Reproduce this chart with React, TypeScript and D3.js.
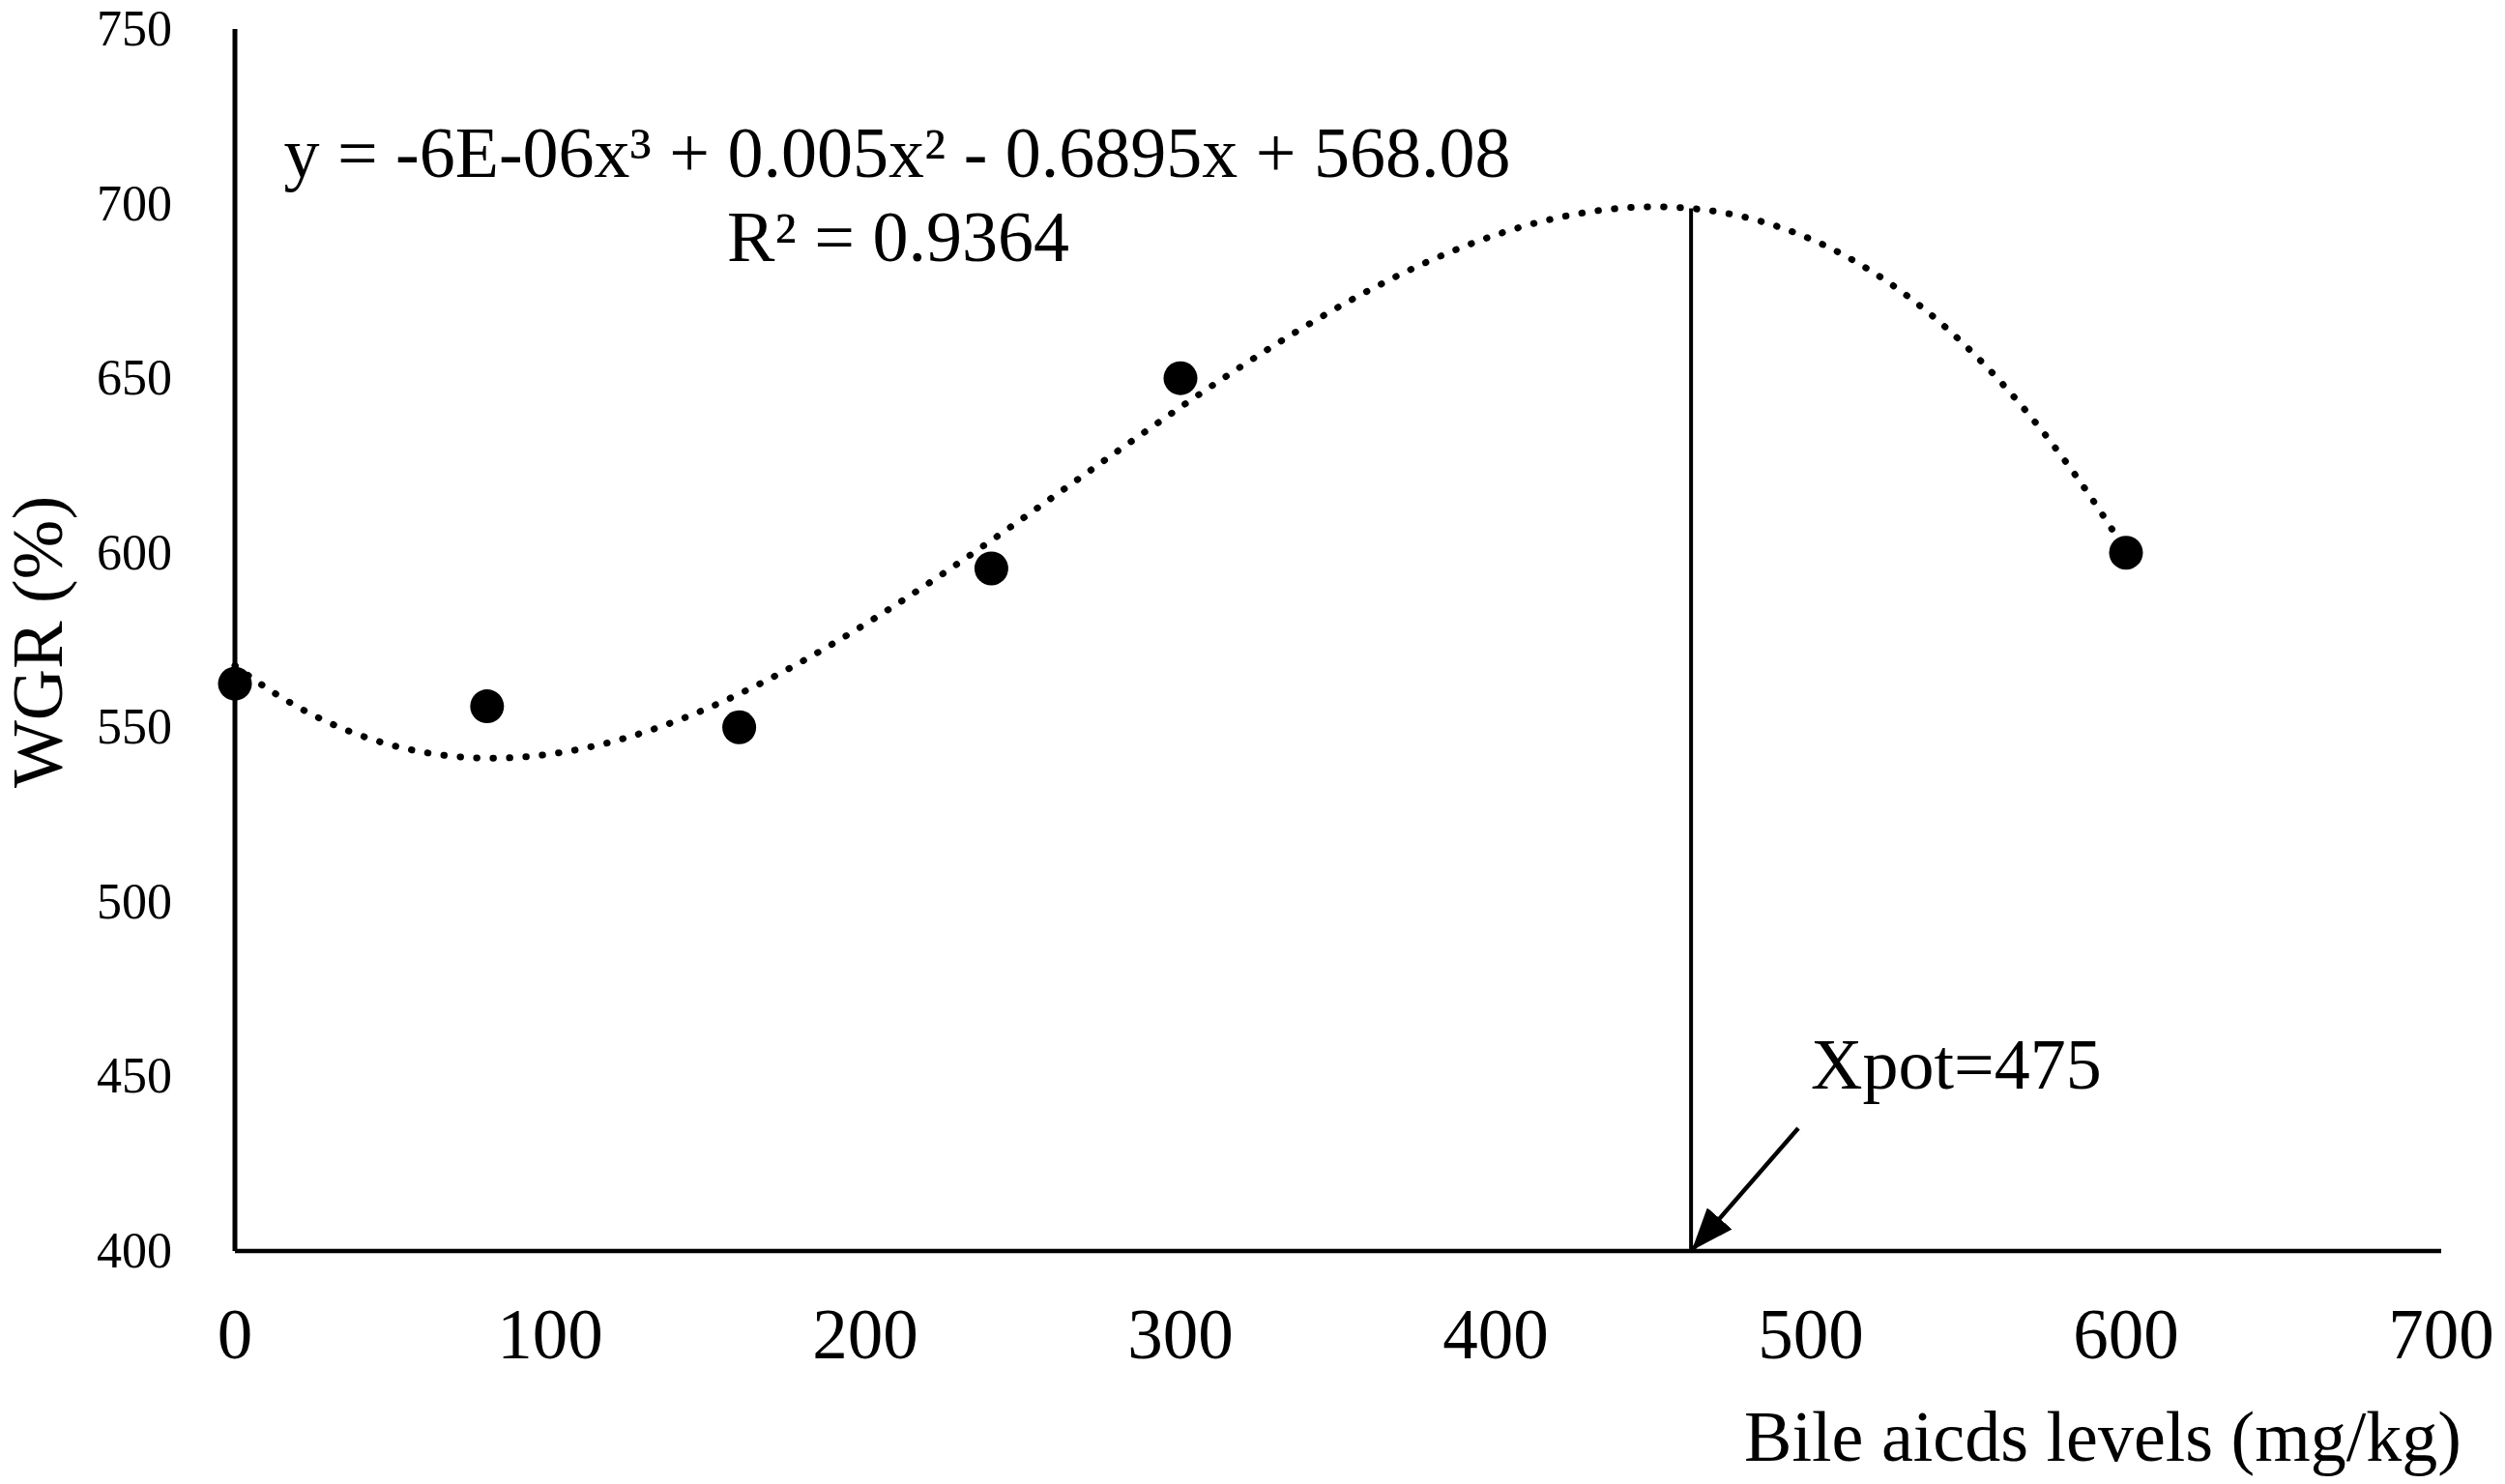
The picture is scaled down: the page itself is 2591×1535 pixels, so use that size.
import React, { useEffect } from "react";
import * as d3 from "d3";

const levels = [0, 80, 160, 240, 300, 600];
const wgr = [562.5, 556, 550, 595.5, 650, 600];

const xTicks = [0, 100, 200, 300, 400, 500, 600, 700];
const yTicks = [400, 450, 500, 550, 600, 650, 700, 750];

const equationText = "y = -6E-06x³ + 0.005x² - 0.6895x + 568.08";
const r2Text = "R² = 0.9364";
const xpotText = "Xpot=475";
const xpotLine = 462; // where the drop line sits on the x axis
const xTitle = "Bile aicds levels (mg/kg)";
const yTitle = "WGR (%)";

const W = 2591;
const H = 1535;
const FONT = "'Liberation Serif', 'Times New Roman', serif";

// least squares cubic, same as an Excel polynomial trendline
function fitCubic(xs: number[], ys: number[]) {
  const s = 100; // scale x for stability
  const n = 4;
  const A: number[][] = Array.from({ length: n }, () => Array(n + 1).fill(0));
  xs.forEach((xv, k) => {
    const x = xv / s;
    for (let i = 0; i < n; i++) {
      for (let j = 0; j < n; j++) A[i][j] += Math.pow(x, i + j);
      A[i][n] += ys[k] * Math.pow(x, i);
    }
  });
  for (let c = 0; c < n; c++) {
    let p = c;
    for (let r = c + 1; r < n; r++) if (Math.abs(A[r][c]) > Math.abs(A[p][c])) p = r;
    [A[c], A[p]] = [A[p], A[c]];
    for (let r = 0; r < n; r++) {
      if (r === c) continue;
      const f = A[r][c] / A[c][c];
      for (let k = c; k <= n; k++) A[r][k] -= f * A[c][k];
    }
  }
  const coef = A.map((row, i) => row[n] / row[i]);
  return (xv: number) => {
    const x = xv / s;
    return coef[0] + coef[1] * x + coef[2] * x * x + coef[3] * x * x * x;
  };
}

const App: React.FC = () => {
  useEffect(() => {
    document.body.style.margin = "0";
  }, []);

  const x = d3.scaleLinear().domain([0, 700]).range([243, 2525]);
  const y = d3.scaleLinear().domain([400, 750]).range([1294, 30]);

  const trend = fitCubic(levels, wgr);
  const xMax = d3.max(levels) as number;
  const samples = d3.range(0, xMax + 0.001, 2);
  const line = d3
    .line<number>()
    .x((d) => x(d))
    .y((d) => y(trend(d)));

  // arrow pointing at the foot of the drop line
  const tip = [x(xpotLine) + 2, y(400) - 2];
  const tail = [1860, 1167];

  return (
    <div style={{ position: "absolute", left: 0, top: 0 }}>
      <svg width={W} height={H} style={{ display: "block", background: "#fff" }}>
        <defs>
          <marker
            id="arrowHead"
            markerUnits="userSpaceOnUse"
            markerWidth={44}
            markerHeight={34}
            refX={42}
            refY={17}
            orient="auto"
          >
            <path d="M0,0 L44,17 L0,34 Z" fill="#000" />
          </marker>
        </defs>

        {/* axes */}
        <line x1={x(0)} x2={x(0)} y1={y(400)} y2={y(750)} stroke="#000" strokeWidth={5} />
        <line x1={x(0)} x2={x(700)} y1={y(400)} y2={y(400)} stroke="#000" strokeWidth={4.5} />

        {yTicks.map((t) => (
          <text
            key={"y" + t}
            x={178}
            y={y(t) + 17}
            textAnchor="end"
            fontFamily={FONT}
            fontSize={52}
            fill="#000"
          >
            {t}
          </text>
        ))}
        {xTicks.map((t) => (
          <text
            key={"x" + t}
            x={x(t)}
            y={1405}
            textAnchor="middle"
            fontFamily={FONT}
            fontSize={73}
            fill="#000"
          >
            {t}
          </text>
        ))}

        <text
          transform={`translate(64, 664) rotate(-90)`}
          textAnchor="middle"
          fontFamily={FONT}
          fontSize={74}
          fill="#000"
        >
          {yTitle}
        </text>
        <text x={2546} y={1511} textAnchor="end" fontFamily={FONT} fontSize={74} fill="#000">
          {xTitle}
        </text>

        {/* trendline */}
        <path
          d={line(samples) || ""}
          fill="none"
          stroke="#000"
          strokeWidth={7}
          strokeLinecap="round"
          strokeDasharray="0.5 16.5"
        />

        {/* drop line at the optimum */}
        <line
          x1={x(xpotLine)}
          x2={x(xpotLine)}
          y1={y(400)}
          y2={y(trend(xpotLine))}
          stroke="#000"
          strokeWidth={4}
        />
        <line
          x1={tail[0]}
          y1={tail[1]}
          x2={tip[0]}
          y2={tip[1]}
          stroke="#000"
          strokeWidth={4.5}
          markerEnd="url(#arrowHead)"
        />

        {levels.map((lv, i) => (
          <circle key={"p" + lv} cx={x(lv)} cy={y(wgr[i])} r={17.5} fill="#000" />
        ))}

        <text x={928} y={183} textAnchor="middle" fontFamily={FONT} fontSize={74} fill="#000">
          {equationText}
        </text>
        <text x={929} y={270} textAnchor="middle" fontFamily={FONT} fontSize={74} fill="#000">
          {r2Text}
        </text>
        <text x={1873} y={1126} fontFamily={FONT} fontSize={74} fill="#000">
          {xpotText}
        </text>
      </svg>
    </div>
  );
};

export default App;
